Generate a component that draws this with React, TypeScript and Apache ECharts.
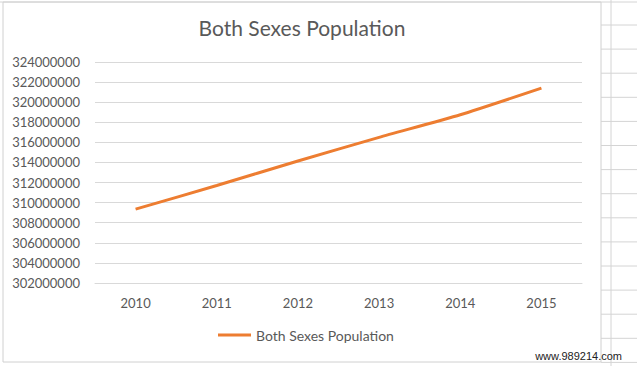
import React, { useEffect, useRef } from "react";
import * as echarts from "echarts";

const years = ["2010", "2011", "2012", "2013", "2014", "2015"];
const population = [309350000, 311700000, 314150000, 316500000, 318750000, 321400000];
const seriesName = "Both Sexes Population";
const titleText = "Both Sexes Population";
const watermark = "www.989214.com";

export default function App() {
  const ref = useRef<HTMLDivElement>(null);
  useEffect(() => {
    if (!ref.current) return;
    const chart = echarts.init(ref.current, undefined, { renderer: "svg" });
    const font = "Lato, 'Open Sans', sans-serif";
    const cellLines: any[] = [];
    for (let i = 0; i < 15; i++) {
      const y = 25 + i * 24.1;
      cellLines.push({
        type: "line",
        shape: { x1: 601, y1: y, x2: 637, y2: y },
        style: { stroke: "#d4d4d4", lineWidth: 1 },
        silent: true,
      });
    }
    chart.setOption({
      animation: false,
      backgroundColor: "#ffffff",
      textStyle: { fontFamily: font },
      title: {
        text: titleText,
        left: 297,
        textAlign: "center",
        top: 12,
        textStyle: { fontFamily: font, fontSize: 21, fontWeight: "normal", color: "#595959" },
      },
      grid: { left: 95, right: 55, top: 62, bottom: 83, containLabel: false },
      legend: {
        data: [seriesName],
        top: 323,
        left: 213,
        icon: "rect",
        itemWidth: 33,
        itemHeight: 3,
        itemGap: 5,
        textStyle: { fontFamily: font, fontSize: 14, color: "#595959" },
      },
      xAxis: {
        type: "category",
        data: years,
        boundaryGap: true,
        axisLine: { show: true, lineStyle: { color: "#d9d9d9" } },
        axisTick: { show: false },
        axisLabel: { color: "#595959", fontSize: 13, margin: 13, fontFamily: font },
      },
      yAxis: {
        type: "value",
        min: 302000000,
        max: 324000000,
        interval: 2000000,
        axisLine: { show: false },
        axisTick: { show: false },
        axisLabel: {
          color: "#595959",
          fontSize: 13,
          margin: 15,
          fontFamily: font,
          formatter: (v: number) => String(v),
        },
        splitLine: { lineStyle: { color: "#d9d9d9" } },
      },
      series: [
        {
          name: seriesName,
          type: "line",
          data: population,
          smooth: 0.2,
          showSymbol: false,
          symbol: "none",
          lineStyle: { color: "#ED7D31", width: 3 },
          itemStyle: { color: "#ED7D31" },
        },
      ],
      graphic: [
        {
          type: "rect",
          shape: { x: 3, y: 2, width: 598, height: 360 },
          style: { fill: "none", stroke: "#d0d0d0", lineWidth: 1 },
          silent: true,
          z: -1,
        },
        {
          type: "line",
          shape: { x1: 611, y1: 0, x2: 611, y2: 366 },
          style: { stroke: "#d4d4d4", lineWidth: 1 },
          silent: true,
        },
        {
          type: "line",
          shape: { x1: 0, y1: 2, x2: 637, y2: 2 },
          style: { stroke: "#d4d4d4", lineWidth: 1 },
          silent: true,
        },
        ...cellLines,
        {
          type: "text",
          x: 622,
          y: 356,
          style: {
            text: watermark,
            align: "right",
            verticalAlign: "middle",
            fill: "#222222",
            fontSize: 11,
            fontFamily: "'Liberation Sans', Arial, sans-serif",
          },
          silent: true,
        },
      ],
    });
    return () => chart.dispose();
  }, []);
  return (
    <div
      ref={ref}
      style={{ position: "fixed", left: 0, top: 0, width: 637, height: 366 }}
    />
  );
}
